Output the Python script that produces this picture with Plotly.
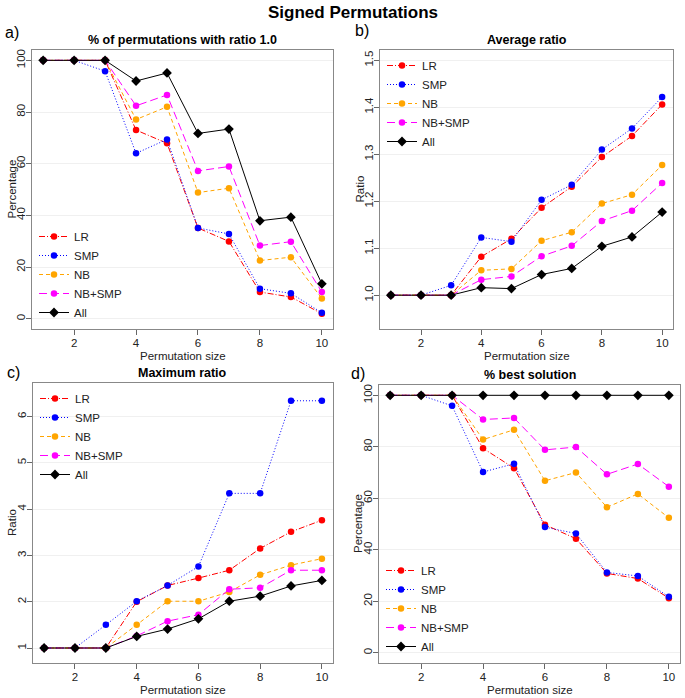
import plotly.graph_objects as go

W, H = 685, 698

sizes = [1, 2, 3, 4, 5, 6, 7, 8, 9, 10]
series_names = ["LR", "SMP", "NB", "NB+SMP", "All"]

a_LR = [100, 100, 100, 73.0, 67.9, 35.1, 29.9, 10.3, 8.4, 1.9]
a_SMP = [100, 100, 95.8, 64.0, 69.4, 35.1, 32.8, 11.6, 9.8, 2.3]
a_NB = [100, 100, 100, 77.1, 82.0, 48.8, 50.5, 22.5, 23.8, 7.8]
a_NBSMP = [100, 100, 100, 82.4, 86.6, 57.2, 58.9, 28.3, 29.8, 10.3]
a_All = [100, 100, 100, 92.0, 95.1, 71.7, 73.4, 37.9, 39.3, 13.5]

b_LR = [1, 1, 1, 1.082, 1.120, 1.186, 1.231, 1.294, 1.339, 1.406]
b_SMP = [1, 1, 1.021, 1.123, 1.114, 1.203, 1.235, 1.310, 1.355, 1.422]
b_NB = [1, 1, 1, 1.053, 1.056, 1.116, 1.134, 1.195, 1.214, 1.277]
b_NBSMP = [1, 1, 1, 1.033, 1.040, 1.083, 1.105, 1.158, 1.180, 1.239]
b_All = [1, 1, 1, 1.016, 1.014, 1.044, 1.057, 1.104, 1.124, 1.177]

c_LR = [1, 1, 1, 2.0, 2.35, 2.51, 2.68, 3.15, 3.51, 3.76]
c_SMP = [1, 1, 1.5, 2.01, 2.35, 2.76, 4.34, 4.34, 6.34, 6.34]
c_NB = [1, 1, 1, 1.5, 2.01, 2.01, 2.21, 2.58, 2.79, 2.93]
c_NBSMP = [1, 1, 1, 1.26, 1.58, 1.72, 2.27, 2.30, 2.68, 2.68]
c_All = [1, 1, 1, 1.25, 1.41, 1.63, 2.01, 2.12, 2.34, 2.46]

d_LR = [100, 100, 100, 79.4, 71.7, 49.7, 44.3, 30.8, 28.8, 21.2]
d_SMP = [100, 100, 95.9, 70.2, 73.4, 48.8, 46.3, 31.2, 29.8, 21.7]
d_NB = [100, 100, 100, 82.8, 86.6, 66.8, 70.0, 56.5, 61.7, 52.4]
d_NBSMP = [100, 100, 100, 90.6, 91.2, 78.8, 79.9, 69.3, 73.3, 64.5]
d_All = [100, 100, 100, 100, 100, 100, 100, 100, 100, 100]

x_ticks = [2, 4, 6, 8, 10]
a_ticks = [0, 20, 40, 60, 80, 100]
b_ticks = [1.0, 1.1, 1.2, 1.3, 1.4, 1.5]
b_tick_labels = ["1.0", "1.1", "1.2", "1.3", "1.4", "1.5"]
c_ticks = [1, 2, 3, 4, 5, 6]
d_ticks = [0, 20, 40, 60, 80, 100]

title_main = "Signed Permutations"
panel_titles = ["% of permutations with ratio 1.0", "Average ratio", "Maximum ratio", "% best solution"]
panel_letters = ["a)", "b)", "c)", "d)"]
y_titles = ["Percentage", "Ratio", "Ratio", "Percentage"]
x_title = "Permutation size"

colors = ["red", "blue", "orange", "magenta", "black"]
dashes = ["6px,2px,1px,2px", "1px,2px", "4px,3px", "8px,4px", "solid"]
symbols = ["circle", "circle", "circle", "circle", "diamond"]
msizes = [6.5, 6.5, 6.5, 6.5, 7.5]

FONT = "Liberation Sans, Arial, Helvetica, sans-serif"

# panel boxes in pixels: (left, right, top, bottom)
boxes = [(32, 333, 50, 329), (380, 673, 50, 329), (33, 333, 383, 663), (379, 680, 385, 663)]
yranges = [[-4, 104], [0.928, 1.522], [0.676, 6.724], [-4, 104]]
legend_pos = [
    dict(x=34, y=327, yanchor="bottom"),
    dict(x=382, y=51, yanchor="top"),
    dict(x=35, y=384, yanchor="top"),
    dict(x=381, y=661, yanchor="bottom"),
]
letter_pos = [(12, 32), (362, 30), (13, 372), (358, 373)]

panels = [
    [a_LR, a_SMP, a_NB, a_NBSMP, a_All],
    [b_LR, b_SMP, b_NB, b_NBSMP, b_All],
    [c_LR, c_SMP, c_NB, c_NBSMP, c_All],
    [d_LR, d_SMP, d_NB, d_NBSMP, d_All],
]
tickvals = [a_ticks, b_ticks, c_ticks, d_ticks]
ticktexts = [[str(v) for v in a_ticks], b_tick_labels, [str(v) for v in c_ticks], [str(v) for v in d_ticks]]

fig = go.Figure()
layout = dict(
    width=W, height=H,
    margin=dict(l=0, r=0, t=0, b=0, autoexpand=False),
    paper_bgcolor="white", plot_bgcolor="white",
    font=dict(family=FONT, size=11, color="#222"),
    annotations=[], showlegend=True,
)

for i, series in enumerate(panels):
    n = "" if i == 0 else str(i + 1)
    xa, ya = "x" + n, "y" + n
    leg = "legend" + n
    for j, vals in enumerate(series):
        fig.add_trace(go.Scatter(
            x=sizes, y=vals, name=series_names[j], mode="lines+markers",
            xaxis=xa, yaxis=ya, legend=leg,
            line=dict(color=colors[j], dash=dashes[j], width=1),
            marker=dict(color=colors[j], symbol=symbols[j], size=msizes[j]),
        ))
    l, r, t, b = boxes[i]
    layout["xaxis" + n] = dict(
        domain=[l / W, r / W], range=[0.64, 10.36], anchor=ya, automargin=False,
        tickvals=x_ticks, ticks="outside", ticklen=5, tickcolor="#666",
        showline=True, linecolor="#888", linewidth=1, mirror=True,
        showgrid=False, zeroline=False, ticklabelstandoff=-2,
        tickfont=dict(size=11.5, color="#222"),
    )
    layout["yaxis" + n] = dict(
        domain=[1 - b / H, 1 - t / H], range=yranges[i], anchor=xa, automargin=False,
        tickvals=tickvals[i], ticktext=ticktexts[i], tickangle=-90,
        ticks="outside", ticklen=5, tickcolor="#666",
        showline=True, linecolor="#888", linewidth=1, mirror=True,
        showgrid=True, gridcolor="#f0f0f0", gridwidth=1, zeroline=False,
        ticklabelstandoff=-4,
        tickfont=dict(size=11.5, color="#222"),
    )
    lp = legend_pos[i]
    layout[leg] = dict(
        x=lp["x"] / W, y=1 - lp["y"] / H, xanchor="left", yanchor=lp["yanchor"],
        bgcolor="rgba(0,0,0,0)", borderwidth=0, font=dict(size=11.5, color="#222"),
        tracegroupgap=0, itemwidth=30,
    )
    # axis titles
    layout["annotations"].append(dict(
        text=x_title, x=(l + r) / 2 / W, y=1 - (b + 27) / H, xref="paper", yref="paper",
        showarrow=False, font=dict(size=11.5, color="#222"), xanchor="center", yanchor="middle",
    ))
    layout["annotations"].append(dict(
        text=y_titles[i], x=(l - 21) / W, y=1 - (t + b) / 2 / H, xref="paper", yref="paper",
        showarrow=False, textangle=-90, font=dict(size=11.5, color="#222"),
        xanchor="center", yanchor="middle",
    ))
    layout["annotations"].append(dict(
        text="<b>" + panel_titles[i] + "</b>", x=(l + r) / 2 / W, y=1 - (t - 10) / H,
        xref="paper", yref="paper", showarrow=False, font=dict(size=12.5, color="black"),
        xanchor="center", yanchor="middle",
    ))
    lx, ly = letter_pos[i]
    layout["annotations"].append(dict(
        text=panel_letters[i], x=lx / W, y=1 - ly / H, xref="paper", yref="paper",
        showarrow=False, font=dict(size=16, color="black"), xanchor="center", yanchor="middle",
    ))

layout["annotations"].append(dict(
    text="<b>" + title_main + "</b>", x=353 / W, y=1 - 13 / H, xref="paper", yref="paper",
    showarrow=False, font=dict(size=17, color="black"), xanchor="center", yanchor="middle",
))

fig.update_layout(**layout)
fig.write_html("out.html", config={"displayModeBar": False},
               post_script="document.body.style.margin='0';document.body.style.padding='0';")
